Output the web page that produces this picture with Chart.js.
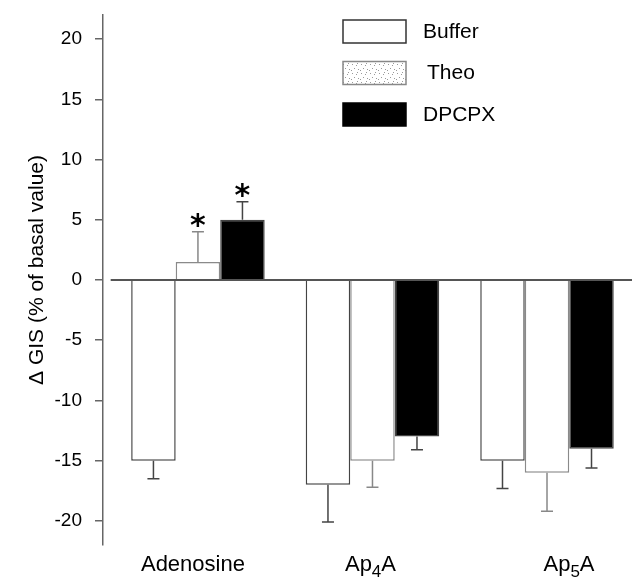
<!DOCTYPE html>
<html>
<head>
<meta charset="utf-8">
<script src="https://cdn.jsdelivr.net/npm/chart.js@4.4.1/dist/chart.umd.min.js"></script>
<style>
  html, body { margin: 0; padding: 0; background: #fff; }
</style>
</head>
<body>
<canvas id="chart" width="632" height="577"></canvas>
<script>
// data
const categories = ["Adenosine", "Ap₄A", "Ap₅A"];
const seriesNames = ["Buffer", "Theo", "DPCPX"];
const buffer = [-15, -17, -15];
const bufferErr = [1.5, 3.1, 2.3];
const theo = [1.5, -15, -16];
const theoErr = [2.5, 2.2, 3.2];
const dpcpx = [5, -13, -14];
const dpcpxErr = [1.5, 1.1, 1.6];
const bufferMarks = ["", "", ""];
const theoMarks = ["*", "", ""];
const dpcpxMarks = ["*", "", ""];
const yTicks = [-20, -15, -10, -5, 0, 5, 10, 15, 20];
const yTitle = "Δ GIS (% of basal value)";

const FONT = "'Liberation Sans', Arial, sans-serif";
const SUB = "₀₁₂₃₄₅₆₇₈₉";
const labelNudge = [-5, -2, 22]; // labels in the figure are not exactly centred

// light stipple for the Theo legend swatch
function stipple() {
  const c = document.createElement("canvas");
  c.width = 9; c.height = 9;
  const g = c.getContext("2d");
  g.fillStyle = "#fff"; g.fillRect(0, 0, 9, 9);
  g.fillStyle = "#9a9a9a";
  [[1, 1], [5, 2], [3, 5], [7, 6], [0, 7], [6, 0]].forEach(p => g.fillRect(p[0], p[1], 1, 1));
  return g.createPattern(c, "repeat");
}

function drawRich(ctx, text, cx, baseline, size) {
  const runs = [];
  for (const ch of text) {
    const k = SUB.indexOf(ch);
    const sub = k >= 0;
    const c = sub ? String(k) : ch;
    if (runs.length && runs[runs.length - 1].sub === sub) runs[runs.length - 1].t += c;
    else runs.push({ t: c, sub: sub });
  }
  const fontFor = r => (r.sub ? Math.round(size * 0.78) : size) + "px " + FONT;
  let total = 0;
  runs.forEach(r => { ctx.font = fontFor(r); r.w = ctx.measureText(r.t).width; total += r.w; });
  let x = cx - total / 2;
  ctx.textAlign = "left";
  ctx.textBaseline = "alphabetic";
  runs.forEach(r => {
    ctx.font = fontFor(r);
    ctx.fillText(r.t, x, baseline + (r.sub ? size * 0.28 : 0));
    x += r.w;
  });
}

const errs = [bufferErr, theoErr, dpcpxErr];
const marks = [bufferMarks, theoMarks, dpcpxMarks];

const extras = {
  id: "extras",
  afterDatasetsDraw(chart) {
    const ctx = chart.ctx;
    const xs = chart.scales.x, ys = chart.scales.y;
    ctx.save();
    // error bars + significance marks
    chart.data.datasets.forEach((ds, di) => {
      const meta = chart.getDatasetMeta(di);
      meta.data.forEach((bar, i) => {
        const v = ds.data[i].y;
        const end = v + Math.sign(v) * errs[di][i];
        const y0 = ys.getPixelForValue(v), y1 = ys.getPixelForValue(end);
        ctx.strokeStyle = di === 1 ? "#888" : "#444";
        ctx.lineWidth = 1.5;
        ctx.beginPath();
        ctx.moveTo(bar.x, y0); ctx.lineTo(bar.x, y1);
        ctx.moveTo(bar.x - 6, y1); ctx.lineTo(bar.x + 6, y1);
        ctx.stroke();
        if (marks[di][i]) {
          ctx.fillStyle = "#000";
          ctx.font = "bold 30px 'DejaVu Sans', sans-serif";
          ctx.textAlign = "center";
          ctx.textBaseline = "alphabetic";
          ctx.fillText(marks[di][i], bar.x, y1 + 3);
        }
      });
    });
    // zero line
    const zy = ys.getPixelForValue(0);
    ctx.strokeStyle = "#555";
    ctx.lineWidth = 2;
    ctx.beginPath();
    ctx.moveTo(xs.getPixelForValue(-0.5), zy);
    ctx.lineTo(chart.width, zy);
    ctx.stroke();
    ctx.restore();
  },
  afterDraw(chart) {
    const ctx = chart.ctx;
    const xs = chart.scales.x;
    ctx.save();
    ctx.fillStyle = "#000";
    // category labels
    categories.forEach((c, i) => drawRich(ctx, c, xs.getPixelForValue(i) + labelNudge[i], 571, 22));
    // y title
    ctx.translate(43, 270);
    ctx.rotate(-Math.PI / 2);
    ctx.font = "21px " + FONT;
    ctx.textAlign = "center";
    ctx.textBaseline = "alphabetic";
    ctx.fillText(yTitle, 0, 0);
    ctx.setTransform(1, 0, 0, 1, 0, 0);
    // legend
    const pat = stipple();
    const boxFill = ["#fff", pat, "#000"];
    const boxLine = ["#333", "#888", "#000"];
    seriesNames.forEach((name, i) => {
      const top = 20 + i * 41.5;
      ctx.fillStyle = boxFill[i];
      ctx.fillRect(343, top, 63, 23);
      ctx.strokeStyle = boxLine[i];
      ctx.lineWidth = 1.5;
      ctx.strokeRect(343, top, 63, 23);
      ctx.fillStyle = "#000";
      ctx.font = "21px " + FONT;
      ctx.textAlign = "left";
      ctx.textBaseline = "middle";
      ctx.fillText(name, i === 1 ? 427 : 423, top + 12);
    });
    ctx.restore();
  }
};

const pts = arr => arr.map((v, i) => ({ x: i, y: v }));

new Chart(document.getElementById("chart"), {
  type: "bar",
  data: {
    datasets: [
      { label: seriesNames[0], data: pts(buffer), backgroundColor: "#fff", borderColor: "#444", borderWidth: 1.5 },
      { label: seriesNames[1], data: pts(theo), backgroundColor: "#fff", borderColor: "#8a8a8a", borderWidth: 1.5 },
      { label: seriesNames[2], data: pts(dpcpx), backgroundColor: "#000", borderColor: "#444", borderWidth: 1.5 }
    ]
  },
  options: {
    responsive: false,
    animation: false,
    categoryPercentage: 0.765,
    barPercentage: 1,
    layout: { padding: { top: 15, bottom: 32, left: 0, right: 0 } },
    plugins: { legend: { display: false }, tooltip: { enabled: false } },
    scales: {
      x: {
        type: "linear",
        display: false,
        offset: false,
        min: -0.544,
        max: 2.487,
        afterBuildTicks: s => { s.ticks = categories.map((c, i) => ({ value: i })); }
      },
      y: {
        min: -22,
        max: 22,
        afterBuildTicks: s => { s.ticks = yTicks.map(v => ({ value: v })); },
        afterFit: s => { s.width = 103; s.paddingTop = 0; s.paddingBottom = 0; },
        border: { display: true, color: "#666", width: 1.5 },
        grid: { drawOnChartArea: false, drawTicks: true, tickLength: 8, color: "#666", lineWidth: 1.5 },
        ticks: { color: "#000", font: { family: FONT, size: 19 }, padding: 13 }
      }
    }
  },
  plugins: [extras]
});
</script>
</body>
</html>
